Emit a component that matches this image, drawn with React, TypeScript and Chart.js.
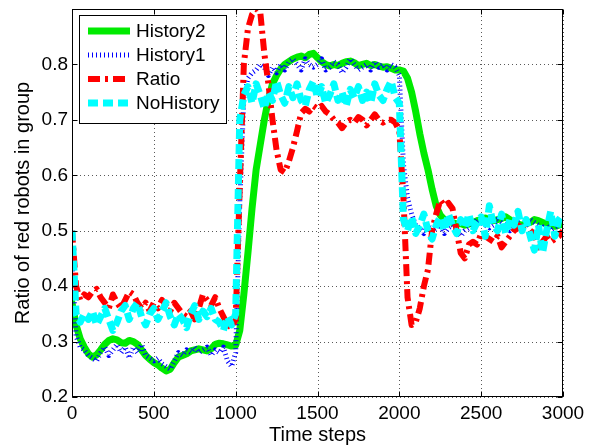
import React, { useEffect, useRef } from 'react';
import { Chart, registerables } from 'chart.js';

Chart.register(...registerables);

const FONT = "'Liberation Sans', Arial, Helvetica, sans-serif";

// Time axis (sampled every 25 time steps, 0..3000)
const STEP = 25;
const timeSteps: number[] = Array.from({ length: 121 }, (_, i) => i * STEP);

const xTickValues = [0, 500, 1000, 1500, 2000, 2500, 3000];
const yTickValues = [0.2, 0.3, 0.4, 0.5, 0.6, 0.7, 0.8];

const seriesNames = ['History2', 'History1', 'Ratio', 'NoHistory'];

const history2 = [
  0.37, 0.33, 0.305, 0.29, 0.278, 0.272, 0.276, 0.285, 0.295, 0.302,
  0.305, 0.303, 0.298, 0.297, 0.302, 0.3, 0.295, 0.285, 0.275, 0.268,
  0.262, 0.258, 0.252, 0.247, 0.25, 0.262, 0.272, 0.275, 0.278, 0.283,
  0.285, 0.287, 0.285, 0.283, 0.287, 0.295, 0.297, 0.296, 0.294, 0.292,
  0.293, 0.32, 0.385, 0.46, 0.54, 0.61, 0.655, 0.7, 0.737, 0.765,
  0.78, 0.792, 0.8, 0.805, 0.81, 0.813, 0.815, 0.812, 0.818, 0.82,
  0.812, 0.805, 0.8, 0.797, 0.8, 0.798, 0.802, 0.805, 0.806, 0.803,
  0.798, 0.8, 0.802, 0.798, 0.8, 0.797, 0.795, 0.796, 0.793, 0.79,
  0.79, 0.788, 0.775, 0.75, 0.715, 0.675, 0.64, 0.61, 0.575, 0.545,
  0.528, 0.52, 0.517, 0.515, 0.512, 0.513, 0.51, 0.512, 0.515, 0.518,
  0.52, 0.523, 0.52, 0.518, 0.52, 0.522, 0.525, 0.52, 0.515, 0.512,
  0.51, 0.513, 0.515, 0.52, 0.518, 0.515, 0.512, 0.51, 0.508, 0.51,
  0.512,
];

const history1 = [
  0.45, 0.31, 0.29, 0.285, 0.275, 0.27, 0.265, 0.28, 0.29, 0.275,
  0.285, 0.295, 0.28, 0.29, 0.27, 0.29, 0.28, 0.295, 0.275, 0.27,
  0.265, 0.27, 0.26, 0.255, 0.25, 0.265, 0.28, 0.275, 0.285, 0.28,
  0.29, 0.28, 0.285, 0.29, 0.275, 0.285, 0.28, 0.29, 0.265, 0.255,
  0.28, 0.55, 0.74, 0.775, 0.785, 0.79, 0.8, 0.795, 0.78, 0.795,
  0.785, 0.8, 0.79, 0.805, 0.81, 0.8, 0.79, 0.81, 0.8, 0.795,
  0.8, 0.81, 0.79, 0.795, 0.805, 0.8, 0.785, 0.795, 0.81, 0.8,
  0.79, 0.795, 0.8, 0.79, 0.805, 0.795, 0.8, 0.79, 0.8, 0.795,
  0.78, 0.62, 0.56, 0.53, 0.51, 0.505, 0.495, 0.51, 0.5, 0.505,
  0.51, 0.495, 0.505, 0.51, 0.5, 0.49, 0.5, 0.505, 0.51, 0.52,
  0.515, 0.51, 0.505, 0.51, 0.52, 0.515, 0.51, 0.5, 0.51, 0.515,
  0.505, 0.51, 0.52, 0.515, 0.51, 0.505, 0.51, 0.5, 0.505, 0.51,
  0.51,
];

const ratio = [
  0.5, 0.4, 0.375, 0.385, 0.38, 0.39, 0.395, 0.38, 0.37, 0.36,
  0.385, 0.37, 0.36, 0.375, 0.39, 0.385, 0.37, 0.36, 0.37, 0.355,
  0.37, 0.36, 0.375, 0.365, 0.355, 0.37, 0.36, 0.35, 0.345, 0.355,
  0.34, 0.36, 0.385, 0.375, 0.365, 0.38, 0.36, 0.345, 0.33, 0.325,
  0.34, 0.58, 0.8, 0.865, 0.89, 0.9, 0.895, 0.82, 0.765, 0.7,
  0.645, 0.61, 0.605, 0.625, 0.65, 0.68, 0.712, 0.72, 0.715, 0.725,
  0.72, 0.725, 0.715, 0.71, 0.7, 0.695, 0.685, 0.695, 0.7, 0.695,
  0.705, 0.7, 0.69, 0.7, 0.71, 0.7, 0.695, 0.7, 0.7, 0.695,
  0.68, 0.56, 0.38, 0.33, 0.335, 0.36, 0.4, 0.43, 0.5, 0.53,
  0.555, 0.545, 0.55, 0.54, 0.5, 0.46, 0.45, 0.475, 0.48, 0.475,
  0.495, 0.49, 0.485, 0.48, 0.49, 0.47, 0.48, 0.49, 0.5, 0.505,
  0.515, 0.51, 0.5, 0.495, 0.47, 0.48, 0.49, 0.48, 0.485, 0.49,
  0.5,
];

const noHistory = [
  0.5, 0.35, 0.335, 0.35, 0.34, 0.355, 0.33, 0.345, 0.36, 0.34,
  0.32, 0.335, 0.355, 0.365, 0.34, 0.36, 0.37, 0.345, 0.33, 0.35,
  0.36, 0.34, 0.355, 0.37, 0.345, 0.33, 0.35, 0.34, 0.325, 0.35,
  0.365, 0.34, 0.355, 0.345, 0.36, 0.34, 0.335, 0.32, 0.345, 0.33,
  0.35, 0.7, 0.745, 0.76, 0.73, 0.765, 0.745, 0.72, 0.75, 0.735,
  0.77, 0.745, 0.73, 0.76, 0.74, 0.765, 0.735, 0.725, 0.755, 0.77,
  0.74, 0.76, 0.73, 0.745, 0.765, 0.735, 0.75, 0.725, 0.755, 0.74,
  0.76, 0.735, 0.75, 0.73, 0.765, 0.745, 0.735, 0.755, 0.77, 0.74,
  0.73, 0.52, 0.5, 0.525, 0.495, 0.51, 0.53, 0.5, 0.485, 0.51,
  0.525, 0.5, 0.53, 0.51, 0.495, 0.52, 0.505, 0.53, 0.5, 0.515,
  0.525, 0.49, 0.545, 0.51, 0.5, 0.53, 0.495, 0.52, 0.51, 0.535,
  0.5, 0.52, 0.49, 0.465, 0.51, 0.46, 0.5, 0.535, 0.49, 0.52,
  0.53,
];

const seriesValues = [history2, history1, ratio, noHistory];

const styles = [
  { color: 'rgb(0,235,0)', width: 7, dash: [] as number[], cap: 'round' as CanvasLineCap, order: 3 },
  { color: '#0000ff', width: 5, dash: [1, 3], cap: 'butt' as CanvasLineCap, order: 2 },
  { color: '#ff0000', width: 6, dash: [12, 5, 3, 5], cap: 'butt' as CanvasLineCap, order: 1 },
  { color: '#00ffff', width: 7, dash: [10, 5], cap: 'butt' as CanvasLineCap, order: 0 },
];

const gridPlugin = {
  id: 'matlabGrid',
  beforeDatasetsDraw(chart: any) {
    const { ctx, chartArea, scales } = chart;
    const { left, right, top, bottom } = chartArea;
    ctx.save();
    ctx.strokeStyle = 'rgba(0,0,0,0.65)';
    ctx.lineWidth = 1;
    ctx.setLineDash([1, 3]);
    xTickValues.forEach((v) => {
      const px = Math.round(scales.x.getPixelForValue(v)) + 0.5;
      ctx.beginPath();
      ctx.moveTo(px, bottom);
      ctx.lineTo(px, top);
      ctx.stroke();
    });
    yTickValues.forEach((v) => {
      const py = Math.round(scales.y.getPixelForValue(v)) + 0.5;
      ctx.beginPath();
      ctx.moveTo(left, py);
      ctx.lineTo(right, py);
      ctx.stroke();
    });
    ctx.restore();
  },
  afterDatasetsDraw(chart: any) {
    const { ctx, chartArea, scales } = chart;
    const { left, right, top, bottom } = chartArea;
    const L = Math.round(left) + 0.5;
    const R = Math.round(right) - 0.5;
    const T = Math.round(top) + 0.5;
    const B = Math.round(bottom) - 0.5;
    ctx.save();
    ctx.strokeStyle = '#000';
    ctx.lineWidth = 1;
    ctx.setLineDash([]);
    ctx.strokeRect(L, T, R - L, B - T);
    const tl = 5;
    ctx.beginPath();
    xTickValues.forEach((v) => {
      const px = Math.round(scales.x.getPixelForValue(v)) + 0.5;
      ctx.moveTo(px, B);
      ctx.lineTo(px, B - tl);
      ctx.moveTo(px, T);
      ctx.lineTo(px, T + tl);
    });
    yTickValues.forEach((v) => {
      const py = Math.round(scales.y.getPixelForValue(v)) + 0.5;
      ctx.moveTo(L, py);
      ctx.lineTo(L + tl, py);
      ctx.moveTo(R, py);
      ctx.lineTo(R - tl, py);
    });
    ctx.stroke();

    // Legend box
    const bx = 79.5, by = 15.5, bw = 147, bh = 108;
    ctx.fillStyle = '#fff';
    ctx.fillRect(bx, by, bw, bh);
    ctx.strokeRect(bx, by, bw, bh);
    const rowY = [31, 55, 79, 103];
    seriesNames.forEach((name, i) => {
      const s = styles[i];
      ctx.save();
      ctx.strokeStyle = s.color;
      ctx.lineWidth = s.width;
      ctx.lineCap = 'butt';
      ctx.setLineDash(s.dash);
      ctx.beginPath();
      ctx.moveTo(88, rowY[i]);
      ctx.lineTo(130, rowY[i]);
      ctx.stroke();
      ctx.restore();
      ctx.fillStyle = '#000';
      ctx.font = `19px ${FONT}`;
      ctx.textBaseline = 'middle';
      ctx.textAlign = 'left';
      ctx.fillText(name, 136, rowY[i] + 1);
    });
    ctx.restore();
  },
};

export default function App() {
  const ref = useRef<HTMLCanvasElement>(null);
  useEffect(() => {
    document.body.style.margin = '0';
    const datasets = seriesNames.map((name, i) => ({
      label: name,
      data: timeSteps.map((t, j) => ({ x: t, y: seriesValues[i][j] })),
      borderColor: styles[i].color,
      backgroundColor: styles[i].color,
      borderWidth: styles[i].width,
      borderDash: styles[i].dash,
      borderCapStyle: styles[i].cap,
      borderJoinStyle: 'round' as CanvasLineJoin,
      pointRadius: 0,
      tension: 0,
      fill: false,
      order: styles[i].order,
    }));
    const chart = new Chart(ref.current!, {
      type: 'line',
      data: { datasets },
      plugins: [gridPlugin],
      options: {
        responsive: false,
        animation: false,
        devicePixelRatio: 1,
        layout: { padding: { top: 9, right: 32, left: 0, bottom: 0 } },
        plugins: { legend: { display: false }, tooltip: { enabled: false } },
        scales: {
          x: {
            type: 'linear',
            min: 0,
            max: 3000,
            afterBuildTicks: (s: any) => {
              s.ticks = xTickValues.map((v) => ({ value: v }));
            },
            ticks: {
              color: '#000',
              font: { family: FONT, size: 19 },
              padding: 5,
              maxRotation: 0,
              autoSkip: false,
              callback: (v: any) => String(v),
            },
            grid: { display: false, drawTicks: false },
            border: { display: false },
            title: {
              display: true,
              text: 'Time steps',
              color: '#000',
              font: { family: FONT, size: 20 },
              padding: { top: 0, bottom: 0 },
            },
            afterFit: (s: any) => {
              s.height = 50;
              s.paddingLeft = 0;
              s.paddingRight = 0;
            },
          },
          y: {
            type: 'linear',
            min: 0.2,
            max: 0.9,
            afterBuildTicks: (s: any) => {
              s.ticks = yTickValues.map((v) => ({ value: v }));
            },
            ticks: {
              color: '#000',
              font: { family: FONT, size: 19 },
              padding: 4,
              callback: (v: any) => Number(v).toFixed(1),
            },
            grid: { display: false, drawTicks: false },
            border: { display: false },
            title: {
              display: true,
              text: 'Ratio of red robots in group',
              color: '#000',
              font: { family: FONT, size: 20 },
              padding: { top: 11, bottom: 0 },
            },
            afterFit: (s: any) => {
              s.width = 72;
              s.paddingTop = 0;
              s.paddingBottom = 0;
            },
          },
        },
      },
    });
    return () => chart.destroy();
  }, []);
  return (
    <div style={{ width: 595, height: 447 }}>
      <canvas ref={ref} width={595} height={447} style={{ display: 'block' }} />
    </div>
  );
}
